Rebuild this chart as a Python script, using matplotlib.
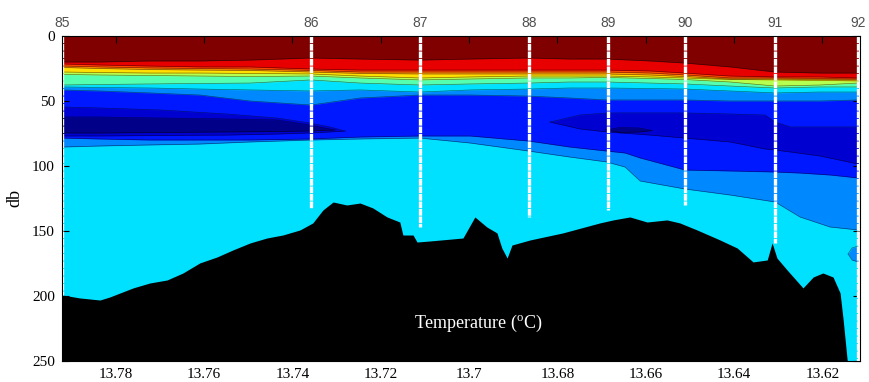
import numpy as np
import matplotlib
matplotlib.use("Agg")
import matplotlib.pyplot as plt

plt.rcParams["mathtext.fontset"] = "custom"
plt.rcParams["mathtext.rm"] = "Liberation Serif"

# ---------------- data ----------------
station_ids = [85, 86, 87, 88, 89, 90, 91, 92]
station_lon = [13.7922, 13.7358, 13.7111, 13.6865, 13.6686, 13.6511, 13.6307, 13.6119]
station_depth = [199, 132, 147, 139, 134, 130, 159, 250]

# upper (thermocline) isotherm depths, db
lon_up = [13.7922, 13.7836, 13.7723, 13.7610, 13.7496, 13.7358, 13.7247, 13.7111, 13.6998,
          13.6865, 13.6772, 13.6688, 13.6590, 13.6511, 13.6409, 13.6307, 13.6205, 13.6119]
iso_u10 = [20.0, 20.0, 19.2, 19.2, 18.5, 16.9, 17.7, 18.5, 17.7, 16.9, 17.7, 17.7, 19.2, 20.8, 23.8, 27.7, 28.5, 28.5]
iso_u9 = [21.5, 22.3, 23.1, 23.8, 23.8, 25.4, 26.2, 26.2, 26.2, 26.2, 26.2, 26.2, 26.9, 28.5, 30.8, 31.5, 31.5, 32.3]
iso_u8 = [23.1, 23.8, 24.6, 25.0, 25.4, 26.5, 27.7, 27.7, 27.7, 27.7, 27.7, 27.7, 28.5, 30.0, 32.3, 32.3, 32.7, 33.1]
iso_u7 = [24.2, 25.0, 25.8, 26.2, 26.5, 27.7, 28.8, 29.2, 29.2, 29.2, 29.2, 29.2, 30.0, 31.2, 33.1, 33.1, 33.5, 33.8]
iso_u6 = [27.7, 28.1, 28.5, 28.5, 28.8, 29.2, 30.8, 32.3, 31.5, 30.8, 30.8, 30.8, 31.5, 32.3, 33.5, 33.8, 34.2, 34.6]
iso_u5 = [29.6, 30.0, 30.4, 30.8, 31.2, 30.8, 32.3, 33.8, 33.1, 32.3, 32.3, 31.9, 32.7, 33.5, 35.4, 38.5, 37.7, 36.2]
iso_u4 = [37.7, 37.3, 36.9, 36.5, 36.2, 33.8, 36.2, 37.7, 36.9, 36.2, 35.4, 35.4, 36.2, 36.9, 38.5, 40.0, 39.2, 39.2]
iso_u3 = [39.2, 39.6, 40.0, 40.8, 41.5, 42.3, 41.5, 43.1, 41.5, 40.8, 40.0, 40.0, 40.4, 40.8, 42.3, 43.8, 43.1, 43.1]
iso_u2 = [41.5, 42.3, 43.8, 45.4, 50.0, 53.1, 47.7, 45.4, 45.4, 46.2, 47.7, 49.2, 49.2, 49.2, 50.0, 50.0, 50.0, 49.2]

# deep isotherm depths, db
lon_deep = [13.7922, 13.7836, 13.7723, 13.7610, 13.7496, 13.7358, 13.7247, 13.7111, 13.6998, 13.6865,
            13.6772, 13.6688, 13.6647, 13.6613, 13.6511, 13.6409, 13.6307, 13.6251, 13.6183, 13.6119]
iso_d3 = [85.4, 84.6, 83.8, 83.1, 81.5, 80.0, 79.2, 78.5, 82.3, 88.5,
          93.1, 96.9, 100.8, 111.5, 117.7, 122.3, 127.7, 139.2, 146.9, 149.2]
iso_d2 = [78.5, 79.2, 80.0, 80.0, 80.0, 79.2, 77.7, 76.9, 76.9, 80.8,
          85.4, 88.5, 90.0, 93.8, 103.1, 103.8, 104.6, 105.4, 106.9, 109.2]

# cold cores (lenses)
lon_lens1_left = [13.7922, 13.7836, 13.7700, 13.7549, 13.7435, 13.7361, 13.7315, 13.7281]
lens1_left_top = [54.6, 55.4, 56.9, 60.0, 63.1, 66.9, 70.0, 73.1]
lens1_left_bot = [76.9, 76.9, 76.5, 76.2, 75.4, 74.6, 73.8, 73.1]

lon_lens0_left = [13.7922, 13.7836, 13.7700, 13.7549, 13.7435, 13.7361, 13.7304]
lens0_left_top = [62.3, 62.3, 63.1, 63.8, 64.6, 68.5, 72.3]
lens0_left_bot = [74.6, 74.6, 74.2, 73.8, 73.5, 73.1, 72.3]

lon_lens1_right = [13.6817, 13.6749, 13.6688, 13.6590, 13.6511, 13.6409, 13.6330, 13.6307, 13.6273, 13.6205, 13.6119]
lens1_right_top = [66.2, 60.8, 59.2, 59.2, 59.2, 60.0, 60.8, 66.2, 70.0, 70.0, 70.0]
lens1_right_bot = [66.2, 71.5, 73.8, 76.2, 78.5, 81.5, 86.9, 87.7, 89.2, 92.3, 98.5]

lon_lens0_right = [13.6692, 13.6658, 13.6613, 13.6586]
lens0_right_top = [72.3, 70.4, 70.8, 72.7]
lens0_right_bot = [72.3, 74.2, 73.8, 72.7]

lon_lens3_edge = [13.6142, 13.6133, 13.6119]
lens3_edge_top = [167.7, 163.1, 161.5]
lens3_edge_bot = [167.7, 172.3, 173.8]

# bathymetry
bot_lon = [13.7922, 13.7882, 13.7836, 13.7814, 13.7761, 13.7723, 13.7684, 13.7648, 13.7610, 13.7571,
           13.7535, 13.7496, 13.7458, 13.7422, 13.7383, 13.7354, 13.7331, 13.7308, 13.7277, 13.7247,
           13.7218, 13.7186, 13.7157, 13.7150, 13.7127, 13.7118, 13.7089, 13.7014, 13.6987, 13.6960,
           13.6937, 13.6926, 13.6914, 13.6903, 13.6862, 13.6788, 13.6704, 13.6674, 13.6636, 13.6597,
           13.6552, 13.6523, 13.6484, 13.6432, 13.6393, 13.6357, 13.6325, 13.6314, 13.6303, 13.6280,
           13.6244, 13.6221, 13.6199, 13.6176, 13.6160, 13.6153, 13.6144, 13.6140, 13.6115]
bot_depth = [199.2, 201.5, 203.1, 200.8, 193.8, 190.0, 187.7, 182.3, 174.6, 170.0,
             164.6, 159.2, 155.4, 153.1, 149.2, 143.8, 133.8, 127.7, 130.0, 128.5,
             132.3, 139.2, 143.1, 153.1, 153.1, 158.5, 157.7, 155.4, 139.2, 146.9,
             151.5, 163.1, 170.8, 160.8, 156.9, 151.5, 143.8, 141.5, 139.2, 143.1,
             141.5, 143.8, 149.2, 156.9, 163.1, 173.8, 172.3, 159.2, 170.8, 180.0,
             193.8, 185.4, 182.3, 185.4, 197.7, 218.5, 249.2, 262.0, 262.0]

x_ticks = [13.78, 13.76, 13.74, 13.72, 13.70, 13.68, 13.66, 13.64, 13.62]
x_ticklabels = ["13.78", "13.76", "13.74", "13.72", "13.7", "13.68", "13.66", "13.64", "13.62"]
y_ticks = [0, 50, 100, 150, 200, 250]

# ---------------- style ----------------
band_colors = ["#000088", "#0000d0", "#0018ff", "#0088ff", "#00e0ff", "#55ffb0",
               "#b4ff50", "#ffe000", "#ffa000", "#ff4800", "#e80000", "#800000"]
serif = "Liberation Serif"

fig = plt.figure(figsize=(8.69, 3.82), dpi=100)
ax = fig.add_axes([0.0713, 0.055, 0.9183, 0.8508])
ax.set_xlim(13.7922, 13.6115)
ax.set_ylim(250, 0)

# background = warm bottom water
ax.fill_between(lon_deep, 0, 262, color=band_colors[4], lw=0, zorder=1)
ax.fill_between(lon_deep, 0, iso_d3, color=band_colors[3], lw=0, zorder=1)
ax.fill_between(lon_deep, 0, iso_d2, color=band_colors[2], lw=0, zorder=1)
ax.fill_between(lon_lens3_edge, lens3_edge_top, lens3_edge_bot, color=band_colors[3], lw=0, zorder=1)
ax.fill_between(lon_lens1_left, lens1_left_top, lens1_left_bot, color=band_colors[1], lw=0, zorder=1)
ax.fill_between(lon_lens1_right, lens1_right_top, lens1_right_bot, color=band_colors[1], lw=0, zorder=1)
ax.fill_between(lon_lens0_left, lens0_left_top, lens0_left_bot, color=band_colors[0], lw=0, zorder=1)
ax.fill_between(lon_lens0_right, lens0_right_top, lens0_right_bot, color=band_colors[0], lw=0, zorder=1)

upper = [iso_u2, iso_u3, iso_u4, iso_u5, iso_u6, iso_u7, iso_u8, iso_u9, iso_u10]
for k, iso in enumerate(upper):
    ax.fill_between(lon_up, 0, iso, color=band_colors[k + 3], lw=0, zorder=1)

# contour lines
lc = dict(color="black", lw=0.45, alpha=0.55, zorder=2)
for iso in upper:
    ax.plot(lon_up, iso, **lc)
ax.plot(lon_deep, iso_d3, **lc)
ax.plot(lon_deep, iso_d2, **lc)
for lo, t, b in [(lon_lens1_left, lens1_left_top, lens1_left_bot),
                 (lon_lens1_right, lens1_right_top, lens1_right_bot),
                 (lon_lens0_left, lens0_left_top, lens0_left_bot),
                 (lon_lens0_right, lens0_right_top, lens0_right_bot),
                 (lon_lens3_edge, lens3_edge_top, lens3_edge_bot)]:
    ax.plot(lo, t, **lc)
    ax.plot(lo, b, **lc)

# bathymetry
ax.fill_between(bot_lon, bot_depth, 262, color="black", lw=0, zorder=3)

# station casts
for lon, d in zip(station_lon, station_depth):
    ax.plot([lon, lon], [0, d], color="white", lw=2.4, ls=(0, (2.0, 0.25)),
            solid_capstyle="butt", zorder=4)

# station numbers
for sid, lon in zip(station_ids, station_lon):
    ax.text(lon, 1.04, str(sid), transform=ax.get_xaxis_transform(), ha="center",
            va="center", fontsize=10, color="#505050", family="Liberation Sans")

ax.text(13.698, 221, r"Temperature ($^{\mathrm{o}}$C)", color="white", fontsize=13,
        family=serif, ha="center", va="center", zorder=5)

ax.set_xticks(x_ticks)
ax.set_xticklabels(x_ticklabels)
ax.set_yticks(y_ticks)
ax.tick_params(direction="in", top=True, right=True, length=5, width=0.8,
               labelsize=11, pad=5)
for lab in ax.get_xticklabels() + ax.get_yticklabels():
    lab.set_family(serif)
ax.set_ylabel("db", family=serif, fontsize=13, labelpad=6)
for s in ax.spines.values():
    s.set_linewidth(0.8)
    s.set_zorder(6)

fig.savefig("out.png", dpi=100)
